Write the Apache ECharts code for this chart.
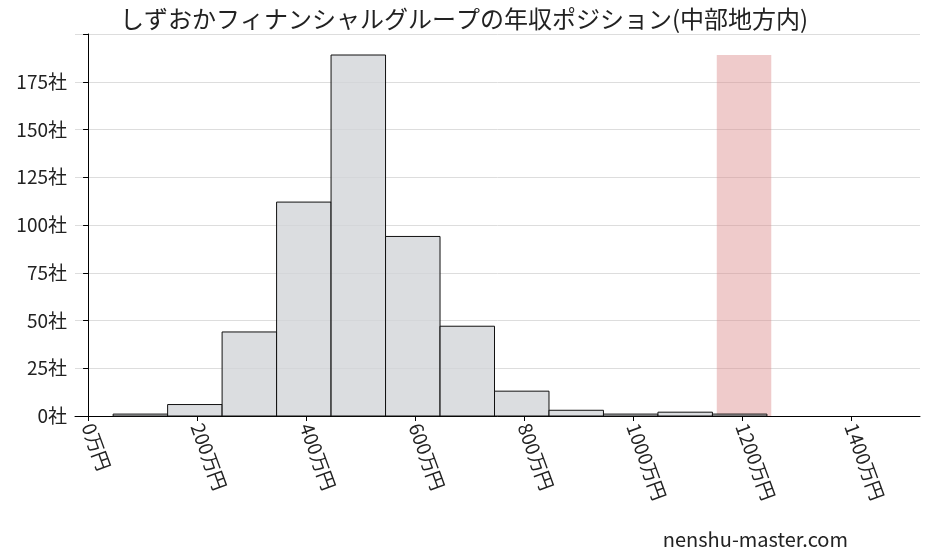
<!DOCTYPE html>
<html><head><meta charset="utf-8">
<script src="https://cdn.jsdelivr.net/npm/echarts@6/dist/echarts.min.js"></script>
<style>body{margin:0}#c{width:928px;height:557px}</style>
</head><body><div id="c"></div>
<script>
var chart = echarts.init(document.getElementById("c"));

// histogram bins (万円) and company counts
var binStart = [46, 146, 246, 346, 446, 546, 646, 746, 846, 946, 1046, 1146];
var binWidth = 100;
var counts = [1, 6, 44, 112, 189, 94, 47, 13, 3, 1, 2, 1];
// highlighted position of this company
var markStart = [1154];
var markHeight = [189];
var xTicks = [0, 200, 400, 600, 800, 1000, 1200, 1400];

var barData = binStart.map(function(s, i) { return [s, s + binWidth, counts[i]]; });
var markData = markStart.map(function(s, i) { return [s, s + binWidth, markHeight[i]]; });

function rect(fill, stroke) {
	return function(params, api) {
		var p0 = api.coord([api.value(0), 0]);
		var p1 = api.coord([api.value(1), api.value(2)]);
		return {
			type: 'rect',
			shape: {x: p0[0], y: p1[1], width: p1[0] - p0[0], height: p0[1] - p1[1]},
			style: {fill: fill, stroke: stroke, lineWidth: 1}
		};
	};
}

var font = "'Noto Sans CJK JP'";
var option = {
	backgroundColor: '#fff',
	title: {
		text: 'しずおかフィナンシャルグループの年収ポジション(中部地方内)',
		left: 'center', top: 2,
		textStyle: {fontFamily: font, fontSize: 24, fontWeight: 'normal', color: '#222'}
	},
	graphic: [{
		type: 'text', right: 80, bottom: 8,
		style: {text: 'nenshu-master.com', fontFamily: font, fontSize: 20, fill: '#222'}
	}],
	grid: {left: 75, right: 8, top: 34, bottom: 141},
	xAxis: {
		type: 'value', min: -24, max: 1527,
		splitLine: {show: false},
		axisLine: {onZero: false, lineStyle: {color: '#000'}},
		axisTick: {show: true, lineStyle: {color: '#000'}},
		axisLabel: {
			rotate: -70, fontFamily: font, fontSize: 19, color: '#222',
			customValues: xTicks,
			formatter: function(v) { return v + '万円'; }
		},
		axisTick: {customValues: xTicks, lineStyle: {color: '#000'}}
	},
	yAxis: {
		type: 'value', min: 0, max: 200, interval: 25,
		axisLine: {show: true, lineStyle: {color: '#000'}},
		axisTick: {show: true, lineStyle: {color: '#000'}},
		splitLine: {lineStyle: {color: '#ddd'}},
		axisLabel: {
			fontFamily: font, fontSize: 19, color: '#222',
			formatter: function(v) { return v >= 200 ? '' : v + '社'; }
		}
	},
	series: [
		{type: 'custom', renderItem: rect('rgba(220,140,140,0.45)', null), data: markData, z: 1},
		{type: 'custom', renderItem: rect('rgba(210,212,216,0.8)', '#111'), data: barData, z: 2}
	]
};
chart.setOption(option);
</script>
</body></html>
